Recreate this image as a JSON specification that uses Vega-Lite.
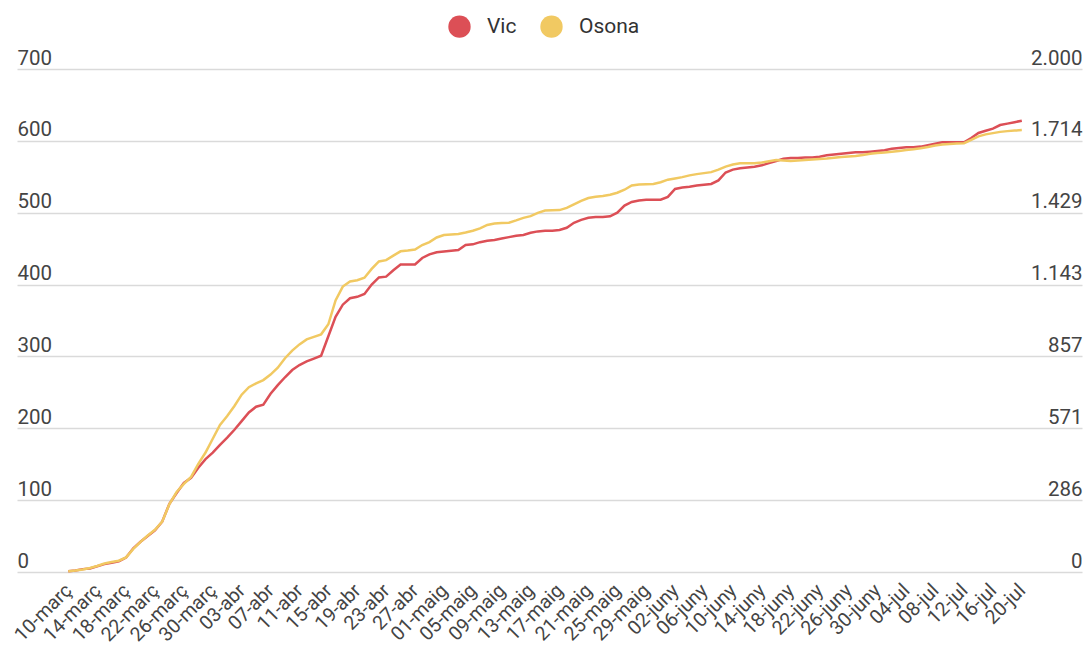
{
  "$schema": "https://vega.github.io/schema/vega-lite/v6.json",
  "width": 1065,
  "height": 503,
  "autosize": "none",
  "padding": {"left": 17, "top": 69, "right": 5, "bottom": 77},
  "background": "white",
  "config": {"view": {"stroke": null}, "font": "Roboto"},
  "data": {"values": [
    {"date":"2020/03/10","Vic":1,"Osona":3},{"date":"2020/03/11","Vic":2,"Osona":6},{"date":"2020/03/12","Vic":4,"Osona":10},{"date":"2020/03/13","Vic":5,"Osona":16},{"date":"2020/03/14","Vic":8,"Osona":24},{"date":"2020/03/15","Vic":11,"Osona":34},{"date":"2020/03/16","Vic":13,"Osona":40},{"date":"2020/03/17","Vic":15,"Osona":45},{"date":"2020/03/18","Vic":20,"Osona":58},{"date":"2020/03/19","Vic":33,"Osona":92},{"date":"2020/03/20","Vic":42,"Osona":120},{"date":"2020/03/21","Vic":50,"Osona":145},{"date":"2020/03/22","Vic":58,"Osona":168},{"date":"2020/03/23","Vic":70,"Osona":200},{"date":"2020/03/24","Vic":95,"Osona":270},{"date":"2020/03/25","Vic":110,"Osona":318},{"date":"2020/03/26","Vic":124,"Osona":350},{"date":"2020/03/27","Vic":131,"Osona":378},{"date":"2020/03/28","Vic":145,"Osona":430},{"date":"2020/03/29","Vic":157,"Osona":475},{"date":"2020/03/30","Vic":166,"Osona":530},{"date":"2020/03/31","Vic":177,"Osona":585},
    {"date":"2020/04/01","Vic":187,"Osona":620},{"date":"2020/04/02","Vic":198,"Osona":660},{"date":"2020/04/03","Vic":210,"Osona":705},{"date":"2020/04/04","Vic":222,"Osona":735},{"date":"2020/04/05","Vic":230,"Osona":750},{"date":"2020/04/06","Vic":233,"Osona":763},{"date":"2020/04/07","Vic":248,"Osona":785},{"date":"2020/04/08","Vic":260,"Osona":812},{"date":"2020/04/09","Vic":271,"Osona":850},{"date":"2020/04/10","Vic":281,"Osona":880},{"date":"2020/04/11","Vic":288,"Osona":905},{"date":"2020/04/12","Vic":293,"Osona":925},{"date":"2020/04/13","Vic":297,"Osona":935},{"date":"2020/04/14","Vic":301,"Osona":945},{"date":"2020/04/15","Vic":328,"Osona":985},{"date":"2020/04/16","Vic":355,"Osona":1080},{"date":"2020/04/17","Vic":372,"Osona":1135},{"date":"2020/04/18","Vic":381,"Osona":1155},{"date":"2020/04/19","Vic":383,"Osona":1160},{"date":"2020/04/20","Vic":387,"Osona":1170},{"date":"2020/04/21","Vic":400,"Osona":1205},{"date":"2020/04/22","Vic":410,"Osona":1235},{"date":"2020/04/23","Vic":411,"Osona":1240},{"date":"2020/04/24","Vic":420,"Osona":1258},{"date":"2020/04/25","Vic":428,"Osona":1275},{"date":"2020/04/26","Vic":428,"Osona":1278},{"date":"2020/04/27","Vic":428,"Osona":1282},{"date":"2020/04/28","Vic":437,"Osona":1300},{"date":"2020/04/29","Vic":442,"Osona":1312},{"date":"2020/04/30","Vic":445,"Osona":1330},
    {"date":"2020/05/01","Vic":446,"Osona":1340},{"date":"2020/05/02","Vic":447,"Osona":1342},{"date":"2020/05/03","Vic":448,"Osona":1344},{"date":"2020/05/04","Vic":455,"Osona":1350},{"date":"2020/05/05","Vic":456,"Osona":1357},{"date":"2020/05/06","Vic":459,"Osona":1366},{"date":"2020/05/07","Vic":461,"Osona":1380},{"date":"2020/05/08","Vic":462,"Osona":1386},{"date":"2020/05/09","Vic":464,"Osona":1388},{"date":"2020/05/10","Vic":466,"Osona":1389},{"date":"2020/05/11","Vic":468,"Osona":1398},{"date":"2020/05/12","Vic":469,"Osona":1408},{"date":"2020/05/13","Vic":472,"Osona":1415},{"date":"2020/05/14","Vic":474,"Osona":1428},{"date":"2020/05/15","Vic":475,"Osona":1437},{"date":"2020/05/16","Vic":475,"Osona":1438},{"date":"2020/05/17","Vic":476,"Osona":1439},{"date":"2020/05/18","Vic":479,"Osona":1448},{"date":"2020/05/19","Vic":486,"Osona":1462},{"date":"2020/05/20","Vic":490,"Osona":1476},{"date":"2020/05/21","Vic":493,"Osona":1487},{"date":"2020/05/22","Vic":494,"Osona":1492},{"date":"2020/05/23","Vic":494,"Osona":1495},{"date":"2020/05/24","Vic":495,"Osona":1500},{"date":"2020/05/25","Vic":500,"Osona":1508},{"date":"2020/05/26","Vic":510,"Osona":1520},{"date":"2020/05/27","Vic":515,"Osona":1537},{"date":"2020/05/28","Vic":517,"Osona":1541},{"date":"2020/05/29","Vic":518,"Osona":1542},{"date":"2020/05/30","Vic":518,"Osona":1543},{"date":"2020/05/31","Vic":518,"Osona":1550},
    {"date":"2020/06/01","Vic":522,"Osona":1560},{"date":"2020/06/02","Vic":533,"Osona":1565},{"date":"2020/06/03","Vic":535,"Osona":1570},{"date":"2020/06/04","Vic":536,"Osona":1577},{"date":"2020/06/05","Vic":538,"Osona":1582},{"date":"2020/06/06","Vic":539,"Osona":1586},{"date":"2020/06/07","Vic":540,"Osona":1590},{"date":"2020/06/08","Vic":545,"Osona":1600},{"date":"2020/06/09","Vic":556,"Osona":1612},{"date":"2020/06/10","Vic":560,"Osona":1620},{"date":"2020/06/11","Vic":562,"Osona":1625},{"date":"2020/06/12","Vic":563,"Osona":1625},{"date":"2020/06/13","Vic":564,"Osona":1625},{"date":"2020/06/14","Vic":566,"Osona":1628},{"date":"2020/06/15","Vic":569,"Osona":1633},{"date":"2020/06/16","Vic":572,"Osona":1638},{"date":"2020/06/17","Vic":575,"Osona":1636},{"date":"2020/06/18","Vic":576,"Osona":1634},{"date":"2020/06/19","Vic":576,"Osona":1636},{"date":"2020/06/20","Vic":577,"Osona":1638},{"date":"2020/06/21","Vic":577,"Osona":1640},{"date":"2020/06/22","Vic":578,"Osona":1642},{"date":"2020/06/23","Vic":580,"Osona":1644},{"date":"2020/06/24","Vic":581,"Osona":1647},{"date":"2020/06/25","Vic":582,"Osona":1650},{"date":"2020/06/26","Vic":583,"Osona":1652},{"date":"2020/06/27","Vic":584,"Osona":1654},{"date":"2020/06/28","Vic":584,"Osona":1658},{"date":"2020/06/29","Vic":585,"Osona":1663},{"date":"2020/06/30","Vic":586,"Osona":1666},
    {"date":"2020/07/01","Vic":587,"Osona":1668},{"date":"2020/07/02","Vic":589,"Osona":1671},{"date":"2020/07/03","Vic":590,"Osona":1674},{"date":"2020/07/04","Vic":591,"Osona":1678},{"date":"2020/07/05","Vic":591,"Osona":1681},{"date":"2020/07/06","Vic":592,"Osona":1685},{"date":"2020/07/07","Vic":594,"Osona":1690},{"date":"2020/07/08","Vic":596,"Osona":1696},{"date":"2020/07/09","Vic":598,"Osona":1700},{"date":"2020/07/10","Vic":598,"Osona":1702},{"date":"2020/07/11","Vic":598,"Osona":1704},{"date":"2020/07/12","Vic":598,"Osona":1705},{"date":"2020/07/13","Vic":604,"Osona":1718},{"date":"2020/07/14","Vic":611,"Osona":1732},{"date":"2020/07/15","Vic":614,"Osona":1740},{"date":"2020/07/16","Vic":617,"Osona":1745},{"date":"2020/07/17","Vic":622,"Osona":1750},{"date":"2020/07/18","Vic":624,"Osona":1753},{"date":"2020/07/19","Vic":626,"Osona":1755},{"date":"2020/07/20","Vic":628,"Osona":1757}
  ]},
  "encoding": {
    "x": {
      "field": "date",
      "type": "temporal",
      "scale": {"domain": [{"year": 2020, "month": 3, "date": 2, "hours": 21, "minutes": 36}, {"year": 2020, "month": 7, "date": 28, "hours": 8}]},
      "axis": {
        "title": null,
        "values": [
          {"year":2020,"month":3,"date":10},{"year":2020,"month":3,"date":14},{"year":2020,"month":3,"date":18},{"year":2020,"month":3,"date":22},{"year":2020,"month":3,"date":26},{"year":2020,"month":3,"date":30},
          {"year":2020,"month":4,"date":3},{"year":2020,"month":4,"date":7},{"year":2020,"month":4,"date":11},{"year":2020,"month":4,"date":15},{"year":2020,"month":4,"date":19},{"year":2020,"month":4,"date":23},{"year":2020,"month":4,"date":27},
          {"year":2020,"month":5,"date":1},{"year":2020,"month":5,"date":5},{"year":2020,"month":5,"date":9},{"year":2020,"month":5,"date":13},{"year":2020,"month":5,"date":17},{"year":2020,"month":5,"date":21},{"year":2020,"month":5,"date":25},{"year":2020,"month":5,"date":29},
          {"year":2020,"month":6,"date":2},{"year":2020,"month":6,"date":6},{"year":2020,"month":6,"date":10},{"year":2020,"month":6,"date":14},{"year":2020,"month":6,"date":18},{"year":2020,"month":6,"date":22},{"year":2020,"month":6,"date":26},{"year":2020,"month":6,"date":30},
          {"year":2020,"month":7,"date":4},{"year":2020,"month":7,"date":8},{"year":2020,"month":7,"date":12},{"year":2020,"month":7,"date":16},{"year":2020,"month":7,"date":20}
        ],
        "labelExpr": "timeFormat(datum.value, '%d') + '-' + ['gen','febr','març','abr','maig','juny','jul','ag','set','oct','nov','des'][month(datum.value)]",
        "labelAngle": -45,
        "labelAlign": "right",
        "labelBaseline": "middle",
        "labelPadding": 15,
        "ticks": false,
        "tickSize": 0,
        "domain": false,
        "grid": false,
        "labelOverlap": false,
        "labelBound": false,
        "labelFlush": false,
        "labelFont": "Roboto",
        "labelFontSize": 19.5,
        "labelColor": "#444444"
      }
    }
  },
  "layer": [
    {
      "mark": {"type": "line", "strokeWidth": 2.5},
      "encoding": {
        "y": {
          "field": "Vic",
          "type": "quantitative",
          "scale": {"domain": [0, 700], "nice": false},
          "axis": {
            "orient": "left",
            "title": null,
            "values": [0, 100, 200, 300, 400, 500, 600, 700],
            "grid": true,
            "gridColor": "#dadada",
            "gridWidth": 1.5,
            "domain": false,
            "ticks": false,
            "tickSize": 0,
            "labelAlign": "left",
            "labelBaseline": "alphabetic",
            "labelPadding": 0,
            "labelOffset": -5,
            "labelOverlap": false,
            "labelFont": "Roboto",
            "labelFontSize": 20.5,
            "labelColor": "#444444"
          }
        },
        "color": {
          "datum": "Vic",
          "type": "nominal",
          "scale": {"domain": ["Vic", "Osona"], "range": ["#dc4f56", "#f1c962"]},
          "legend": {
            "title": null,
            "orient": "none",
            "legendX": 431,
            "legendY": -54,
            "direction": "horizontal",
            "symbolType": "circle",
            "symbolSize": 500,
            "symbolStrokeWidth": 0,
            "labelFont": "Roboto",
            "labelFontSize": 21,
            "labelColor": "#333333",
            "labelOffset": 16,
            "columnPadding": 23,
            "encode": {"symbols": {"update": {"fill": {"scale": "color", "field": "value"}, "fillOpacity": {"value": 1}, "strokeWidth": {"value": 0}}}}
          }
        }
      }
    },
    {
      "mark": {"type": "line", "strokeWidth": 2.5},
      "encoding": {
        "y": {
          "field": "Osona",
          "type": "quantitative",
          "scale": {"domain": [0, 2000], "nice": false},
          "axis": {
            "orient": "right",
            "title": null,
            "values": [0, 285.714, 571.429, 857.143, 1142.857, 1428.571, 1714.286, 2000],
            "labelExpr": "replace(format(datum.value, ',.0f'), ',', '.')",
            "grid": false,
            "domain": false,
            "ticks": false,
            "tickSize": 0,
            "labelAlign": "right",
            "labelBaseline": "alphabetic",
            "labelPadding": 0,
            "labelOffset": -5,
            "labelOverlap": false,
            "labelFont": "Roboto",
            "labelFontSize": 20.5,
            "labelColor": "#444444"
          }
        },
        "color": {"datum": "Osona", "type": "nominal"}
      }
    }
  ],
  "resolve": {"scale": {"y": "independent"}}
}
